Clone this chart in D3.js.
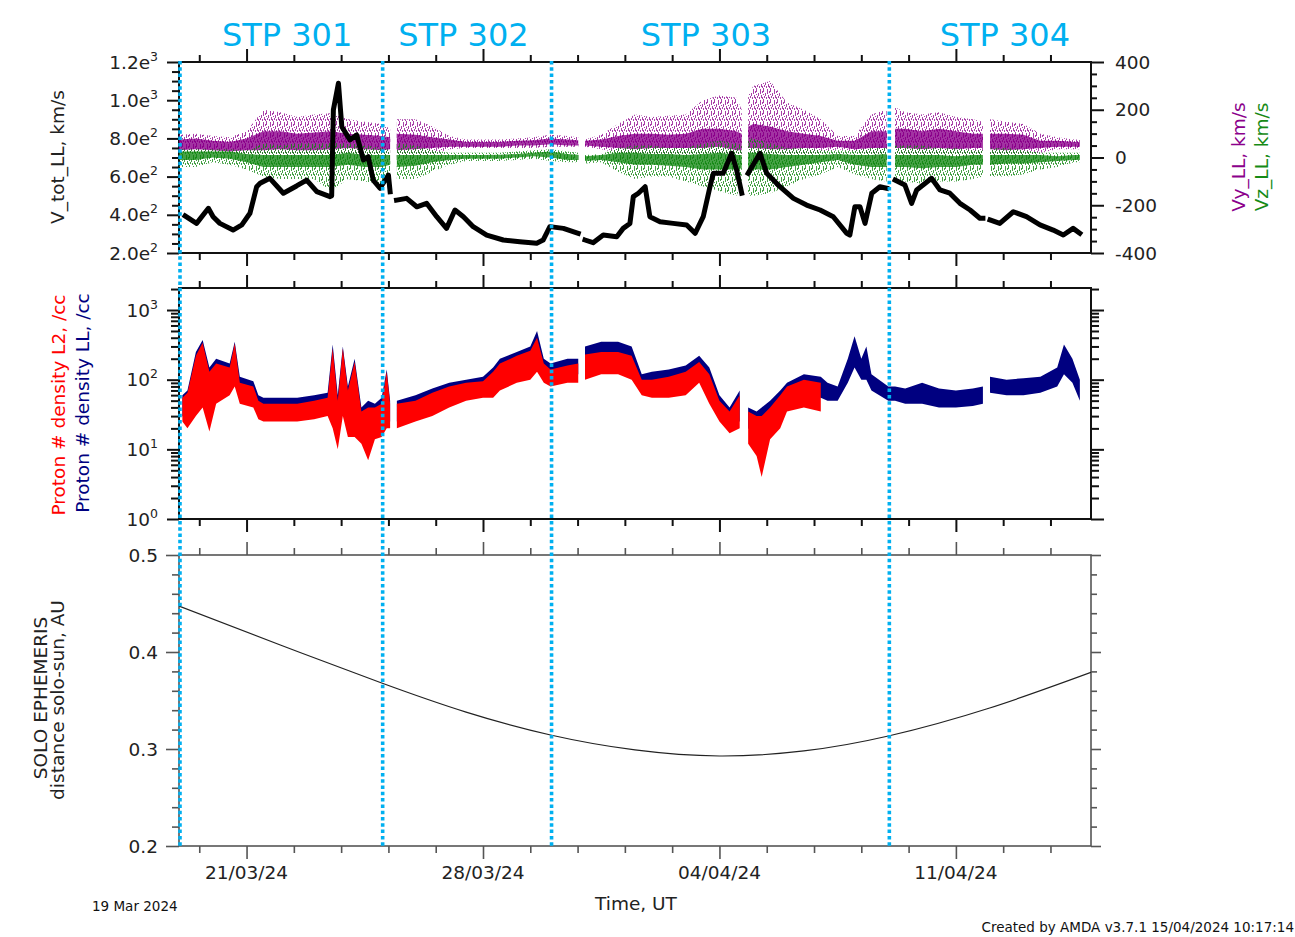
<!DOCTYPE html>
<html><head><meta charset="utf-8">
<script src="https://cdn.jsdelivr.net/npm/d3@7"></script>
<style>
body{margin:0;background:#fff}
svg{display:block}
text{font-family:"DejaVu Sans",sans-serif}
</style>
</head><body>
<svg id="c" width="1295" height="937"></svg>
<script>
// ---------------- DATA ----------------
const startDay = "2024-03-19";
const endDay = "2024-04-15";
const stpLabels = ["STP 301", "STP 302", "STP 303", "STP 304"];
const stpLabelDay = [3.2, 8.42, 15.6, 24.45];
const stpBoundaryDay = [0, 6, 11, 21];

// x ticks
const xMajorDays = [2, 9, 16, 23];
const xMajorLabels = ["21/03/24", "28/03/24", "04/04/24", "11/04/24"];
const xMinorDays = [0.6, 3.4, 4.8, 6.2, 7.6, 10.4, 11.8, 13.2, 14.6, 17.4, 18.8, 20.2, 21.6, 24.4, 25.8];

// panel 1 tick labels
const vtotTicks = [200, 400, 600, 800, 1000, 1200];
const vtotTickMant = ["2.0e", "4.0e", "6.0e", "8.0e", "1.0e", "1.2e"];
const vtotTickExp = ["2", "2", "2", "2", "3", "3"];
const vyzTicks = [-400, -200, 0, 200, 400];
const vyzTickLabels = ["-400", "-200", "0", "200", "400"];
// panel 2
const densTicks = [1, 10, 100, 1000];
const densTickExp = ["0", "1", "2", "3"];
// panel 3
const distTicks = [0.2, 0.3, 0.4, 0.5];
const distTickLabels = ["0.2", "0.3", "0.4", "0.5"];

// V_tot_LL (km/s), day offsets from 19 Mar 2024 00:00 UT; null = data gap
const vtotDay = [0.18,0.52,0.87,1.01,1.21,1.6,1.86,2.1,2.3,2.4,2.69,3.09,3.48,3.78,4.08,4.47,4.52,4.57,4.72,4.82,5.06,5.26,5.46,5.6,5.75,5.95,6.2,6.25,6.35,6.44,6.74,7.04,7.33,7.63,7.92,8.17,8.42,8.71,9.11,9.6,10.09,10.59,10.78,10.98,11.38,11.82,11.9,12.02,12.26,12.56,12.96,13.15,13.35,13.45,13.6,13.8,13.94,14.24,14.63,15.03,15.28,15.52,15.72,15.82,16.11,16.36,16.51,16.66,16.75,16.85,17.2,17.4,17.79,18.19,18.58,18.98,19.37,19.77,19.86,20.01,20.16,20.31,20.51,20.75,20.95,21.05,21.2,21.49,21.69,21.84,22.28,22.53,22.82,23.12,23.42,23.71,23.8,23.9,24.01,24.3,24.7,25.09,25.49,25.88,26.18,26.47,26.67];
const vtot = [394,355,434,390,355,320,347,408,547,565,591,513,551,582,521,495,500,949,1089,861,792,818,687,704,582,539,608,521,null,477,486,442,460,390,329,425,390,338,294,268,259,251,268,338,329,303,null,268,254,294,285,329,355,495,513,547,390,364,355,347,303,390,547,617,617,722,634,513,null,617,722,617,547,486,451,425,390,303,294,442,442,355,513,547,539,null,582,556,460,530,591,530,513,460,425,382,382,null,373,355,416,390,347,320,294,329,303];

// Vy_LL / Vz_LL (km/s) envelopes: full spread and dense core
const vDay = [0,0.5,1,1.5,2,2.5,3,3.5,4,4.5,5,5.5,6,6.25,6.35,6.45,7,7.5,8,8.5,9,9.5,10,10.5,11,11.5,11.82,11.9,12.02,12.5,13,13.5,14,14.5,15,15.5,16,16.5,16.66,16.75,16.85,17,17.5,18,18.5,19,19.5,20,20.5,20.95,21.05,21.2,21.5,22,22.5,23,23.5,23.8,23.9,24.01,24.5,25,25.5,26,26.5,26.67];
const vyLo  = [15,20,15,10,15,0,0,0,0,5,10,10,0,10,null,0,5,15,35,40,40,40,40,40,45,45,45,null,45,35,20,10,10,10,5,10,10,0,0,null,0,0,0,5,10,20,35,25,10,10,null,0,0,0,5,0,10,10,null,0,0,10,20,35,35,35];
const vyHi  = [95,100,90,85,110,200,190,170,180,185,160,150,140,120,null,160,160,130,90,75,75,75,80,85,95,90,85,null,75,95,140,180,170,175,180,240,260,250,200,null,260,300,320,230,200,160,90,90,180,200,null,210,190,180,190,170,160,150,null,160,150,140,100,85,75,75];
const vyCLo = [30,35,30,25,30,30,35,30,30,35,40,35,30,35,null,30,35,40,45,45,45,45,50,50,55,50,50,null,50,45,40,35,40,40,40,40,45,30,30,null,40,40,35,35,40,40,45,35,40,40,null,40,40,35,40,35,40,40,null,35,30,35,40,45,45,45];
const vyCHi = [75,80,70,65,80,110,110,100,105,110,100,95,90,85,null,100,95,85,75,65,65,65,70,72,80,75,72,null,70,75,90,100,100,95,100,120,120,110,100,null,130,140,130,110,100,90,70,70,110,110,null,120,120,110,120,110,100,100,null,100,100,95,70,70,65,65];
const vzLo  = [-40,-40,-20,-30,-50,-80,-90,-90,-90,-140,-90,-100,-110,-80,null,-90,-90,-60,-30,-15,-15,-15,-10,-5,-15,-20,-20,null,-25,-20,-60,-90,-80,-80,-100,-120,-140,-160,-120,null,-160,-160,-150,-120,-90,-70,-40,-70,-90,-100,null,-100,-100,-110,-100,-100,-90,-80,null,-80,-80,-70,-50,-40,-20,-20];
const vzHi  = [35,35,35,35,30,60,50,60,60,60,60,50,40,30,null,60,50,30,20,20,20,20,25,30,35,25,20,null,10,15,40,50,50,40,40,60,70,60,50,null,80,80,60,40,40,30,30,30,40,40,null,50,50,50,40,40,30,30,null,40,40,30,20,20,20,20];
const vzCLo = [-10,-10,0,-5,-20,-40,-40,-40,-40,-40,-30,-40,-40,-30,null,-40,-35,-20,-10,-5,-5,-5,0,5,0,-10,-10,null,-15,-10,-20,-30,-30,-35,-40,-50,-50,-50,-45,null,-50,-50,-50,-40,-30,-20,-10,-30,-40,-40,null,-40,-40,-45,-40,-40,-30,-30,null,-30,-25,-25,-20,-15,-10,-10];
const vzCHi = [25,25,25,25,15,10,10,10,10,10,20,10,10,10,null,10,10,10,10,10,10,12,15,20,25,15,12,null,5,10,20,20,15,15,10,15,20,10,10,null,20,20,15,10,10,10,15,10,10,15,null,10,10,10,10,5,10,10,null,10,10,10,10,5,10,10];

// Proton number density (/cc): LL (navy) and L2 (red) envelopes
const nDay  = [0.1,0.25,0.5,0.7,0.9,1.1,1.5,1.65,1.8,2.2,2.35,2.5,3,3.5,4,4.4,4.55,4.7,4.85,5,5.2,5.4,5.6,5.8,6,6.15,6.25,6.35,6.45,7,7.5,8,8.5,9,9.3,9.5,10,10.4,10.6,10.8,11,11.5,11.82,11.9,12.02,12.5,13,13.4,13.7,14,14.5,15,15.4,15.7,16,16.3,16.6,16.75,16.85,17.1,17.25,17.5,17.8,18,18.5,19,19.2,19.5,19.8,20,20.2,20.35,20.5,21,21.2,21.5,22,22.5,23,23.5,23.8,23.9,24.01,24.5,25,25.5,26,26.2,26.45,26.67];
const nLLlo = [30,25,40,50,20,60,90,120,70,60,40,40,38,40,40,42,30,12,40,20,25,15,10,18,20,25,25,null,25,35,45,60,70,70,75,100,120,150,180,120,100,110,120,null,150,180,180,150,80,80,85,90,130,70,35,25,25,null,20,15,10,20,30,50,60,55,50,50,90,150,100,100,70,50,50,45,45,40,40,42,45,null,65,60,60,65,80,120,90,50];
const nLLhi = [60,70,250,370,150,200,170,350,110,95,60,55,55,55,60,65,320,60,300,80,200,40,50,45,55,140,50,null,50,60,75,90,100,110,150,200,250,300,500,200,170,200,200,null,300,350,350,300,120,130,140,160,220,150,60,40,70,null,40,35,40,50,70,90,120,110,90,80,200,420,200,300,120,80,80,75,90,75,70,75,80,null,110,100,105,110,150,320,200,100];
const nL2lo = [25,20,30,40,18,45,60,80,45,40,27,25,25,25,27,30,20,10,30,15,15,12,7,14,15,20,20,null,20,25,30,40,50,55,55,70,90,100,130,90,80,90,90,null,100,120,120,100,60,55,55,60,90,45,25,17,20,null,12,8,4,14,20,35,40,35,null,null,null,null,null,null,null,null,null,null,null,null,null,null,null,null,null,null,null,null,null,null,null,null];
const nL2hi = [55,65,220,340,130,170,150,330,90,80,50,45,45,45,50,55,280,50,280,70,180,35,40,40,45,130,45,null,45,50,65,80,90,95,130,170,220,260,400,170,140,160,170,null,230,250,250,220,100,100,110,130,180,120,50,35,60,null,35,30,30,40,60,80,100,90,null,null,null,null,null,null,null,null,null,null,null,null,null,null,null,null,null,null,null,null,null,null,null,null];

// SOLO ephemeris: Solar Orbiter - Sun distance (AU)
const distDay = [0, 3, 6, 8.5, 11, 13.5, 16, 18.5, 21, 24, 27];
const distAU  = [0.4474, 0.4072, 0.368, 0.338, 0.3144, 0.299, 0.2928, 0.298, 0.3134, 0.3423, 0.379];

// ---------------- LAYOUT ----------------
const W = 1295, H = 937;
const X0 = 179, X1 = 1091;
const P1 = {top: 62, bot: 253};
const P2 = {top: 288, bot: 519};
const P3 = {top: 555, bot: 846};
const C = {
  stp: "#00b0f0", vy: "#8b008b", vz: "#168a16", ll: "#000080", l2: "#ff0000",
  axis: "#111", axis3: "#555", text: "#222"
};
const FS = 18.5, FSUP = 12.5;

const DAYMS = 86400000;
const t0 = new Date(startDay + "T00:00:00Z");
const t1 = new Date(endDay + "T00:00:00Z");
const D = d => new Date(t0.getTime() + d * DAYMS);

const x = d3.scaleUtc().domain([t0, t1]).range([X0, X1]);
const y1L = d3.scaleLinear().domain([200, 1200]).range([P1.bot, P1.top]);
const y1R = d3.scaleLinear().domain([-400, 400]).range([P1.bot, P1.top]);
const y2 = d3.scaleLog().domain([1, Math.pow(10, 3.316)]).range([P2.bot, P2.top]);
const y3 = d3.scaleLinear().domain([0.2, 0.5]).range([P3.bot, P3.top]);

const svg = d3.select("#c");
svg.append("rect").attr("width", W).attr("height", H).attr("fill", "#fff");
const defs = svg.append("defs");
[["cp1", P1], ["cp2", P2], ["cp3", P3]].forEach(([id, p]) => {
  defs.append("clipPath").attr("id", id).append("rect")
    .attr("x", X0).attr("y", p.top).attr("width", X1 - X0).attr("height", p.bot - p.top);
});
// speckle texture used to render sparse scatter regions
const speck = [[0,0,1,4],[2,5,1,3],[4,1,1,5],[5,7,1,3],[1,8,1,2],[6,3,1,2],[3,9,1,2],[0,6,1,1],[6,9,1,2]];
function speckle(id, color) {
  const p = defs.append("pattern").attr("id", id).attr("patternUnits", "userSpaceOnUse")
    .attr("width", 7).attr("height", 11);
  speck.forEach(r => p.append("rect").attr("x", r[0]).attr("y", r[1]).attr("width", r[2]).attr("height", r[3]).attr("fill", color));
}
speckle("pvy", C.vy);
speckle("pvz", C.vz);
speckle("pll", C.ll);
speckle("pl2", C.l2);

// ---------------- AXES / FRAMES ----------------
function tickGroup(axisGen, scale, values, size, tx, ty, color, sw) {
  const g = svg.append("g").attr("transform", `translate(${tx},${ty})`)
    .call(axisGen(scale).tickValues(values).tickSize(size).tickSizeOuter(0).tickFormat(""));
  g.select(".domain").remove();
  g.selectAll("line").attr("stroke", color).attr("stroke-width", sw);
  return g;
}
const xMajorDates = xMajorDays.map(D);
const xMinorDates = xMinorDays.map(D);

function xTicks(p, color, sw) {
  tickGroup(d3.axisTop, x, xMajorDates, 13, 0, p.top, color, sw);
  tickGroup(d3.axisTop, x, xMinorDates, 7, 0, p.top, color, sw);
  tickGroup(d3.axisBottom, x, xMajorDates, 13, 0, p.bot, color, sw);
  tickGroup(d3.axisBottom, x, xMinorDates, 7, 0, p.bot, color, sw);
}
xTicks(P1, C.axis, 2);
xTicks(P2, C.axis, 2);
xTicks(P3, C.axis3, 1.6);

// Panel 1 y ticks
const y1Minor = d3.range(250, 1200, 50).filter(v => v % 200 !== 0);
tickGroup(d3.axisLeft, y1L, vtotTicks, 12, X0, 0, C.axis, 2);
tickGroup(d3.axisLeft, y1L, y1Minor, 7, X0, 0, C.axis, 2);
const y1RMinor = d3.range(-350, 400, 50).filter(v => v % 200 !== 0);
tickGroup(d3.axisRight, y1R, vyzTicks, 13, X1, 0, C.axis, 2);
tickGroup(d3.axisRight, y1R, y1RMinor, 6, X1, 0, C.axis, 2);

// Panel 2 log ticks
const y2Minor = [];
[1, 10, 100].forEach(b => [2,3,4,5,6,7,8,9].forEach(m => y2Minor.push(b * m)));
y2Minor.push(2000);
tickGroup(d3.axisLeft, y2, densTicks, 12, X0, 0, C.axis, 2);
tickGroup(d3.axisLeft, y2, y2Minor, 8, X0, 0, C.axis, 2);
tickGroup(d3.axisRight, y2, densTicks, 13, X1, 0, C.axis, 2);
tickGroup(d3.axisRight, y2, y2Minor, 8, X1, 0, C.axis, 2);

// Panel 3 ticks
const y3Minor = [0.22,0.24,0.26,0.28,0.32,0.34,0.36,0.38,0.42,0.44,0.46,0.48];
tickGroup(d3.axisLeft, y3, distTicks, 13, X0, 0, C.axis3, 1.6);
tickGroup(d3.axisLeft, y3, y3Minor, 7, X0, 0, C.axis3, 1.6);
tickGroup(d3.axisRight, y3, distTicks, 10, X1, 0, C.axis3, 1.6);
tickGroup(d3.axisRight, y3, y3Minor, 6, X1, 0, C.axis3, 1.6);

// frames
[[P1, C.axis, 2], [P2, C.axis, 2], [P3, C.axis3, 1.6]].forEach(([p, col, sw]) => {
  svg.append("rect").attr("x", X0).attr("y", p.top).attr("width", X1 - X0).attr("height", p.bot - p.top)
    .attr("fill", "none").attr("stroke", col).attr("stroke-width", sw);
});

// tick labels
function supLabel(xp, yp, anchor, base, exp) {
  const t = svg.append("text").attr("x", xp).attr("y", yp).attr("text-anchor", anchor)
    .attr("font-size", FS).attr("fill", C.text);
  t.append("tspan").text(base);
  t.append("tspan").attr("font-size", FSUP).attr("dy", -8).text(exp);
}
vtotTicks.forEach((v, i) => supLabel(158, y1L(v) + 6.5, "end", vtotTickMant[i], vtotTickExp[i]));
vyzTicks.forEach((v, i) => svg.append("text").attr("x", 1115).attr("y", y1R(v) + 6.5)
  .attr("font-size", FS).attr("fill", C.text).text(vyzTickLabels[i]));
densTicks.forEach((v, i) => supLabel(158, y2(v) + 6.5, "end", "10", densTickExp[i]));
distTicks.forEach((v, i) => svg.append("text").attr("x", 158).attr("y", y3(v) + 6.5)
  .attr("text-anchor", "end").attr("font-size", FS).attr("fill", C.text).text(distTickLabels[i]));
xMajorDays.forEach((d, i) => svg.append("text").attr("x", x(D(d))).attr("y", 879)
  .attr("text-anchor", "middle").attr("font-size", FS).attr("fill", C.text).text(xMajorLabels[i]));

// axis titles
function vtitle(txt, bx, cy, color) {
  svg.append("text").attr("transform", `translate(${bx},${cy}) rotate(-90)`)
    .attr("text-anchor", "middle").attr("font-size", FS).attr("fill", color).text(txt);
}
vtitle("V_tot_LL, km/s", 64, 157, C.text);
vtitle("Vy_LL, km/s", 1245, 157, C.vy);
vtitle("Vz_LL, km/s", 1268, 157, C.vz);
vtitle("Proton # density L2, /cc", 65, 405, C.l2);
vtitle("Proton # density LL, /cc", 89, 403, C.ll);
vtitle("SOLO EPHEMERIS", 47, 698, C.text);
vtitle("distance solo-sun, AU", 64, 700, C.text);

svg.append("text").attr("x", 636).attr("y", 910).attr("text-anchor", "middle")
  .attr("font-size", FS).attr("fill", C.text).text("Time, UT");
svg.append("text").attr("x", 92).attr("y", 911).attr("font-size", 13.5).attr("fill", "#111").text("19 Mar 2024");
svg.append("text").attr("x", 1294).attr("y", 932).attr("text-anchor", "end")
  .attr("font-size", 13.5).attr("fill", "#111").text("Created by AMDA v3.7.1 15/04/2024 10:17:14");

// STP titles
stpLabels.forEach((s, i) => svg.append("text").attr("x", x(D(stpLabelDay[i]))).attr("y", 46)
  .attr("text-anchor", "middle").attr("font-family", "'Liberation Sans', Arial, sans-serif")
  .attr("font-size", 32).attr("fill", C.stp).text(s));

// ---------------- DATA MARKS ----------------
function band(g, days, lo, hi, ys, fill, opacity) {
  const idx = d3.range(days.length);
  const a = d3.area().defined(i => lo[i] != null && hi[i] != null)
    .x(i => x(D(days[i]))).y0(i => ys(lo[i])).y1(i => ys(hi[i]));
  g.append("path").attr("d", a(idx)).attr("fill", fill).attr("opacity", opacity);
}

const g1 = svg.append("g").attr("clip-path", "url(#cp1)");
band(g1, vDay, vyLo, vyHi, y1R, "url(#pvy)", 0.75);
band(g1, vDay, vyCLo, vyCHi, y1R, C.vy, 0.8);
band(g1, vDay, vyCLo, vyCHi, y1R, "url(#pvy)", 1);
band(g1, vDay, vzLo, vzHi, y1R, "url(#pvz)", 0.8);
band(g1, vDay, vzCLo, vzCHi, y1R, C.vz, 0.8);
band(g1, vDay, vzCLo, vzCHi, y1R, "url(#pvz)", 1);
const vline = d3.line().defined(i => vtot[i] != null)
  .x(i => x(D(vtotDay[i]))).y(i => y1L(vtot[i]));
g1.append("path").attr("d", vline(d3.range(vtotDay.length)))
  .attr("fill", "none").attr("stroke", "#000").attr("stroke-width", 5)
  .attr("stroke-linejoin", "round").attr("stroke-linecap", "square");

const g2 = svg.append("g").attr("clip-path", "url(#cp2)");
band(g2, nDay, nLLlo, nLLhi, y2, C.ll, 1);
band(g2, nDay, nL2lo, nL2hi, y2, C.l2, 1);

const g3 = svg.append("g").attr("clip-path", "url(#cp3)");
const dline = d3.line().curve(d3.curveNatural).x((d, i) => x(D(distDay[i]))).y(d => y3(d));
g3.append("path").attr("d", dline(distAU)).attr("fill", "none").attr("stroke", "#222").attr("stroke-width", 1.2);

// STP boundaries (dotted)
stpBoundaryDay.forEach(d => {
  svg.append("line").attr("x1", x(D(d)) + 1).attr("x2", x(D(d)) + 1).attr("y1", 61).attr("y2", 847)
    .attr("stroke", C.stp).attr("stroke-width", 3.6).attr("stroke-dasharray", "3.5,2.8");
});
</script>
</body></html>
